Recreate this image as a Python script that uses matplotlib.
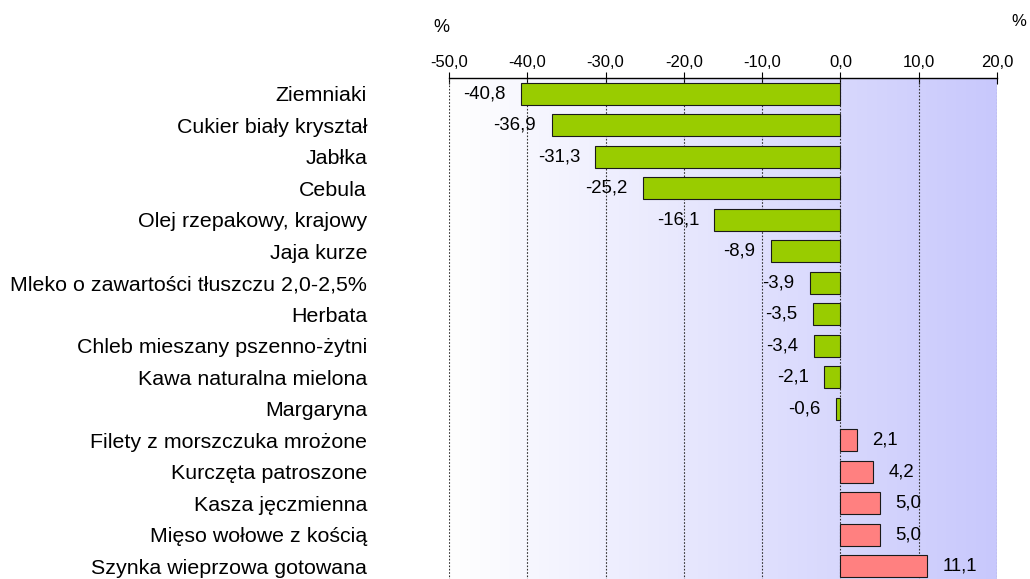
import matplotlib.pyplot as plt
import numpy as np
from matplotlib.colors import LinearSegmentedColormap

plt.rcParams["font.family"] = ["Liberation Sans", "DejaVu Sans"]

# Data: price change in %
products = [
    "Ziemniaki",
    "Cukier biały kryształ",
    "Jabłka",
    "Cebula",
    "Olej rzepakowy, krajowy",
    "Jaja kurze",
    "Mleko o zawartości tłuszczu 2,0-2,5%",
    "Herbata",
    "Chleb mieszany pszenno-żytni",
    "Kawa naturalna mielona",
    "Margaryna",
    "Filety z morszczuka mrożone",
    "Kurczęta patroszone",
    "Kasza jęczmienna",
    "Mięso wołowe z kością",
    "Szynka wieprzowa gotowana",
]
changes = [-40.8, -36.9, -31.3, -25.2, -16.1, -8.9, -3.9, -3.5, -3.4, -2.1,
           -0.6, 2.1, 4.2, 5.0, 5.0, 11.1]
xticks = [-50, -40, -30, -20, -10, 0, 10, 20]

fig = plt.figure(figsize=(10.3, 5.79), dpi=100)
ax = fig.add_axes([0.4359, -0.0052, 0.532, 0.8705])

# background gradient
cmap = LinearSegmentedColormap.from_list("bg", ["#ffffff", "#c8c8fc"])
grad = np.linspace(0, 1, 256).reshape(1, -1)
ax.imshow(grad, extent=[-50, 20, 15.5, -0.5], aspect="auto", cmap=cmap, zorder=0)

y = np.arange(len(products))
colors = ["#99cc00" if v < 0 else "#ff8080" for v in changes]
ax.barh(y, changes, height=0.7, color=colors, edgecolor="#1a1a1a", linewidth=0.8, zorder=3)

for xi in xticks:
    ax.axvline(xi, color="#333333", linestyle=(0, (1.5, 1.5)), linewidth=0.8, zorder=2)

for yi, v in zip(y, changes):
    txt = f"{v:.1f}".replace(".", ",")
    if v < 0:
        ax.annotate(txt, (v, yi), xytext=(-11, 0), textcoords="offset points",
                    ha="right", va="center", fontsize=13.4, zorder=4)
    else:
        ax.annotate(txt, (v, yi), xytext=(11, 0), textcoords="offset points",
                    ha="left", va="center", fontsize=13.4, zorder=4)

ax.set_xlim(-50, 20)
ax.set_ylim(15.5, -0.5)
ax.xaxis.tick_top()
ax.set_xticks(xticks)
ax.set_xticklabels([f"{t:.1f}".replace(".", ",") for t in xticks], fontsize=12)
ax.tick_params(axis="x", direction="inout", length=8, width=0.8, pad=2)
ax.set_yticks(y)
ax.set_yticklabels(products, fontsize=15.4)
ax.tick_params(axis="y", length=0, pad=59)
for side in ["left", "right", "bottom"]:
    ax.spines[side].set_visible(False)
ax.spines["top"].set_linewidth(1.0)

fig.text(441 / 1030, 1 - 27 / 579, "%", fontsize=13, ha="center", va="center")
fig.text(1019 / 1030, 1 - 21 / 579, "%", fontsize=12, ha="center", va="center")

fig.savefig("out.png", dpi=100)
